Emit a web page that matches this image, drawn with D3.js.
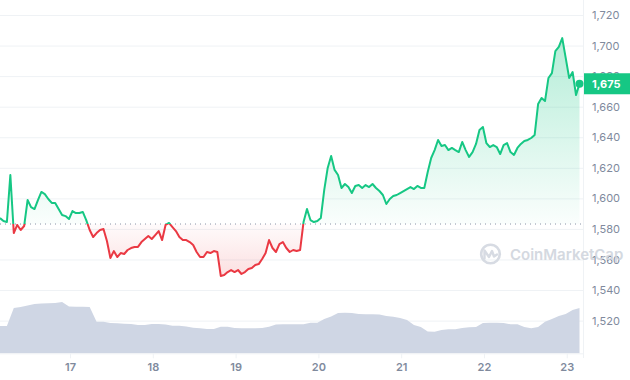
<!DOCTYPE html>
<html>
<head>
<meta charset="utf-8">
<script src="https://cdn.jsdelivr.net/npm/d3@7/dist/d3.min.js"></script>
<style>
  html, body { margin: 0; padding: 0; background: #fff; }
  svg { display: block; font-family: Inter, "Noto Sans", sans-serif; }
</style>
</head>
<body>
<svg id="chart" width="630" height="380"></svg>
<script>
// ---------- DATA ----------
const startDay = 16.154;          // first sample (day of month, fractional)
const priceStepHours = 1;
const volumeStepHours = 2;
const basePrice = 1583.2;          // reference (open) price, dotted line
const lastPrice = 1675;

const prices = [
  1587.1, 1585.2, 1584.5, 1615.3, 1577.3, 1582.6, 1579.3, 1581.9, 1598.9, 1594.3,
  1593.0, 1598.9, 1604.2, 1602.8, 1599.6, 1597.0, 1597.0, 1593.0, 1589.1, 1588.4,
  1586.5, 1591.7, 1590.4, 1590.4, 1591.1, 1585.8, 1579.3, 1574.7, 1577.3, 1579.3,
  1579.9, 1572.1, 1561.0, 1565.5, 1561.6, 1564.2, 1563.6, 1566.2, 1567.5, 1568.2,
  1568.2, 1571.4, 1573.4, 1575.4, 1573.4, 1576.0, 1578.6, 1572.7, 1582.6, 1583.9,
  1581.2, 1578.6, 1574.7, 1572.7, 1572.7, 1571.4, 1569.5, 1564.9, 1561.6, 1561.6,
  1564.9, 1564.2, 1565.5, 1564.9, 1549.2, 1549.8, 1551.8, 1553.1, 1551.8, 1553.1,
  1550.5, 1551.8, 1553.8, 1554.4, 1556.4, 1557.0, 1560.3, 1564.2, 1572.7, 1567.5,
  1564.9, 1570.1, 1571.4, 1567.5, 1564.9, 1566.2, 1565.5, 1566.2, 1584.5, 1593.0,
  1585.8, 1584.5, 1585.2, 1587.1, 1605.5, 1619.9, 1627.7, 1618.6, 1615.3, 1606.8,
  1609.4, 1607.4, 1603.5, 1608.1, 1608.7, 1606.8, 1608.7, 1607.4, 1609.4, 1606.8,
  1604.8, 1602.2, 1596.3, 1599.6, 1601.5, 1602.2, 1603.5, 1604.8, 1606.1, 1607.4,
  1606.1, 1608.1, 1606.8, 1606.8, 1617.2, 1626.4, 1631.6, 1638.2, 1634.3, 1634.9,
  1631.6, 1633.0, 1631.6, 1630.3, 1636.9, 1631.6, 1627.1, 1630.3, 1635.6, 1644.7,
  1646.7, 1636.2, 1633.6, 1634.9, 1633.6, 1629.0, 1634.9, 1636.2, 1630.3, 1628.4,
  1633.0, 1635.6, 1637.5, 1638.2, 1639.5, 1641.5, 1661.7, 1665.7, 1663.7, 1678.8,
  1682.0, 1696.4, 1699.1, 1704.9, 1691.9, 1678.8, 1682.7, 1667.6, 1675.0
];

// 24h volume (billions USD), every 2 hours
const volumes = [
  5.46, 5.46, 9.06, 9.26, 9.56, 9.86, 9.96, 10.0, 10.06, 10.26,
  9.36, 9.32, 9.32, 9.26, 6.32, 6.32, 6.06, 6.0, 5.9, 5.86,
  5.66, 5.66, 5.86, 5.86, 5.76, 5.52, 5.52, 5.36, 5.12, 5.0,
  4.86, 4.86, 5.32, 5.32, 5.06, 5.0, 5.0, 5.0, 5.06, 5.32,
  5.76, 5.8, 5.8, 5.8, 5.8, 6.12, 6.12, 6.86, 7.36, 8.06,
  8.12, 8.06, 7.86, 7.8, 7.8, 7.76, 7.46, 7.32, 7.06, 6.66,
  5.66, 5.26, 4.36, 4.32, 4.66, 4.8, 4.8, 5.06, 5.2, 5.26,
  6.06, 6.12, 6.12, 6.06, 5.8, 5.8, 5.26, 5.0, 5.26, 6.32,
  6.86, 7.46, 7.86, 8.66, 9.06
];

const xTicks = [17, 18, 19, 20, 21, 22, 23];
const yTicks = [1520, 1540, 1560, 1580, 1600, 1620, 1640, 1660, 1680, 1700, 1720];

// ---------- BUILD ----------
const priceData = prices.map((p, i) => ({ t: startDay + i * priceStepHours / 24, v: p }));
const volData = volumes.map((v, i) => ({ t: startDay + i * volumeStepHours / 24, v }));

const GREEN = "#16c784", RED = "#ea3943";
const plotRight = 583;

const svg = d3.select("#chart");
const x = d3.scaleLinear()
  .domain([startDay, startDay + (prices.length - 1) * priceStepHours / 24])
  .range([0, 579.5]);
const y = d3.scaleLinear().domain([1520, 1720]).range([320.6, 15]);
const yv = d3.scaleLinear().domain([0, 14]).range([353.3, 283.3]);

const yBase = y(basePrice);
const defs = svg.append("defs");

// gradients
const gG = defs.append("linearGradient").attr("id", "gGreen")
  .attr("gradientUnits", "userSpaceOnUse").attr("x1", 0).attr("x2", 0)
  .attr("y1", y(d3.max(prices))).attr("y2", yBase);
gG.append("stop").attr("offset", 0).attr("stop-color", GREEN).attr("stop-opacity", 0.32);
gG.append("stop").attr("offset", 1).attr("stop-color", GREEN).attr("stop-opacity", 0.02);

const gR = defs.append("linearGradient").attr("id", "gRed")
  .attr("gradientUnits", "userSpaceOnUse").attr("x1", 0).attr("x2", 0)
  .attr("y1", yBase).attr("y2", y(d3.min(prices)));
gR.append("stop").attr("offset", 0).attr("stop-color", RED).attr("stop-opacity", 0.02);
gR.append("stop").attr("offset", 1).attr("stop-color", RED).attr("stop-opacity", 0.16);

defs.append("clipPath").attr("id", "above").append("rect")
  .attr("x", -5).attr("y", -5).attr("width", 640).attr("height", yBase + 5);
defs.append("clipPath").attr("id", "below").append("rect")
  .attr("x", -5).attr("y", yBase).attr("width", 640).attr("height", 400);

// grid + y labels
const yAxis = d3.axisRight(y).tickValues(yTicks).tickFormat(d3.format(","))
  .tickSize(-plotRight).tickPadding(9);
const gy = svg.append("g").attr("transform", `translate(${plotRight},0)`).call(yAxis);
gy.select(".domain").remove();
gy.selectAll(".tick line").attr("stroke", "#eff2f5").attr("stroke-width", 1);
gy.selectAll(".tick text").attr("fill", "#808a9d").attr("font-size", 11)
  .attr("font-family", "Inter, sans-serif");

// right vertical separator
svg.append("line").attr("x1", plotRight + 0.5).attr("x2", plotRight + 0.5)
  .attr("y1", 0).attr("y2", 358).attr("stroke", "#eff2f5");

// volume
svg.append("path").datum(volData)
  .attr("fill", "#cfd6e4")
  .attr("d", d3.area().x(d => x(d.t)).y0(yv(0)).y1(d => yv(d.v)));

// x axis
const xAxis = d3.axisBottom(x).tickValues(xTicks).tickFormat(d => d).tickSize(5).tickPadding(5);
const gx = svg.append("g").attr("transform", `translate(0,${yv(0)})`).call(xAxis);
gx.select(".domain").attr("stroke", "#eff2f5").attr("d", `M0,0.5H${plotRight}`);
gx.selectAll(".tick line").attr("stroke", "#eff2f5");
gx.selectAll(".tick text").attr("fill", "#808a9d").attr("font-size", 11)
  .attr("font-weight", 600).attr("font-family", "Inter, sans-serif");

// areas
const area = d3.area().x(d => x(d.t)).y0(yBase).y1(d => y(d.v));
svg.append("path").datum(priceData).attr("clip-path", "url(#above)")
  .attr("fill", "url(#gGreen)").attr("d", area);
svg.append("path").datum(priceData).attr("clip-path", "url(#below)")
  .attr("fill", "url(#gRed)").attr("d", area);

// baseline dotted
svg.append("line").attr("x1", 0).attr("x2", plotRight).attr("y1", yBase).attr("y2", yBase)
  .attr("stroke", "#8a93a6").attr("stroke-width", 1).attr("stroke-dasharray", "1,4");

// price line
const line = d3.line().x(d => x(d.t)).y(d => y(d.v));
svg.append("path").datum(priceData).attr("clip-path", "url(#above)")
  .attr("fill", "none").attr("stroke", GREEN).attr("stroke-width", 2)
  .attr("stroke-linejoin", "round").attr("d", line);
svg.append("path").datum(priceData).attr("clip-path", "url(#below)")
  .attr("fill", "none").attr("stroke", RED).attr("stroke-width", 2)
  .attr("stroke-linejoin", "round").attr("d", line);

// watermark
const wm = svg.append("g").attr("opacity", 0.9);
wm.append("circle").attr("cx", 490.5).attr("cy", 254).attr("r", 9.3)
  .attr("fill", "none").attr("stroke", "#d3d8e0").attr("stroke-width", 2.6);
wm.append("path")
  .attr("d", "M484.5,258.5 L484.5,250.5 L489,257 L492,251 L494,256.5 L497,254.5")
  .attr("fill", "none").attr("stroke", "#d3d8e0").attr("stroke-width", 2.4)
  .attr("stroke-linejoin", "round").attr("stroke-linecap", "round");
wm.append("text").attr("x", 510).attr("y", 259.5).text("CoinMarketCap")
  .attr("fill", "#d0d5dd").attr("font-size", 15).attr("font-weight", 600)
  .attr("font-family", "Inter, sans-serif");

// last price marker + label
const last = priceData[priceData.length - 1];
svg.append("circle").attr("cx", x(last.t)).attr("cy", y(last.v)).attr("r", 4).attr("fill", GREEN);
const ly = y(lastPrice);
svg.append("rect").attr("x", plotRight + 1).attr("y", ly - 10.5).attr("width", 630 - plotRight)
  .attr("height", 21).attr("fill", GREEN);
svg.append("text").attr("x", 592).attr("y", ly).attr("dy", "0.36em")
  .text(d3.format(",")(lastPrice)).attr("fill", "#fff").attr("font-size", 11)
  .attr("font-weight", 700).attr("font-family", "Inter, sans-serif");
</script>
</body>
</html>
